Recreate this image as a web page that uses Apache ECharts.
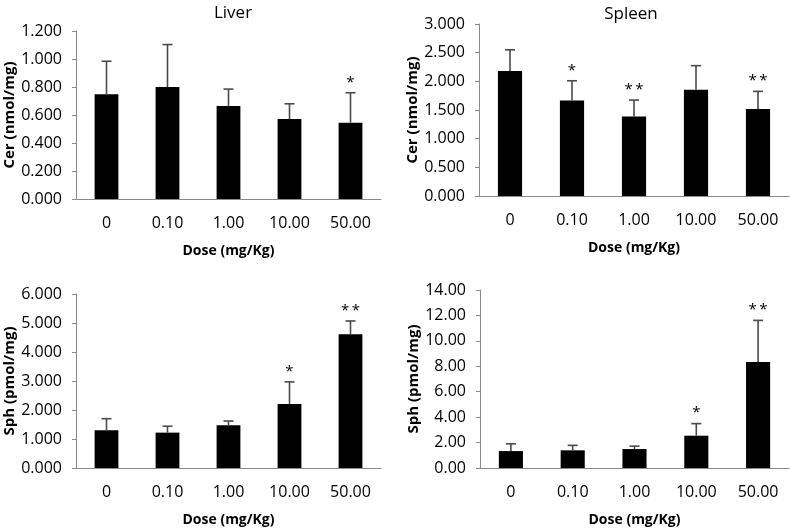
<!DOCTYPE html>
<html>
<head>
<meta charset="utf-8">
<script src="https://cdn.jsdelivr.net/npm/echarts@6/dist/echarts.min.js"></script>
<style>html,body{margin:0;padding:0;background:#fff}#c{width:790px;height:528px}</style>
</head>
<body>
<div id="c"></div>
<script>
// ---- data ----
const categories = ['0', '0.10', '1.00', '10.00', '50.00'];

const liverCerMean = [0.749, 0.800, 0.664, 0.571, 0.545];
const liverCerSD   = [0.235, 0.303, 0.121, 0.109, 0.214];
const liverCerSig  = ['', '', '', '', '*'];

const spleenCerMean = [2.18, 1.667, 1.388, 1.853, 1.516];
const spleenCerSD   = [0.37, 0.343, 0.285, 0.42, 0.309];
const spleenCerSig  = ['', '*', '**', '', '**'];

const liverSphMean = [1.30, 1.22, 1.47, 2.21, 4.61];
const liverSphSD   = [0.40, 0.22, 0.15, 0.76, 0.46];
const liverSphSig  = ['', '', '', '*', '**'];

const spleenSphMean = [1.33, 1.39, 1.49, 2.54, 8.33];
const spleenSphSD   = [0.57, 0.39, 0.23, 0.95, 3.28];
const spleenSphSig  = ['', '', '', '*', '**'];

const titles = ['Liver', 'Spleen', '', ''];
const yNames = ['Cer (nmol/mg)', 'Cer (nmol/mg)', 'Sph (pmol/mg)', 'Sph (pmol/mg)'];
const xName = 'Dose (mg/Kg)';
const yMax = [1.2, 3, 6, 14];
const yInterval = [0.2, 0.5, 1, 2];
const yDecimals = [3, 3, 3, 2];

// ---- layout ----
const FONT = 'Open Sans';
const grids = [
  {left: 76, top: 31, width: 305, height: 168},
  {left: 479, top: 24, width: 310, height: 172},
  {left: 76, top: 294, width: 305, height: 177},
  {left: 480, top: 290, width: 309, height: 181}
];
const yNameGap = [57, 51, 57, 51];
const panels = [
  [liverCerMean, liverCerSD, liverCerSig],
  [spleenCerMean, spleenCerSD, spleenCerSig],
  [liverSphMean, liverSphSD, liverSphSig],
  [spleenSphMean, spleenSphSD, spleenSphSig]
];

const axisGray = '#8a8a8a';
const xAxes = [], yAxes = [], series = [];
panels.forEach((p, i) => {
  const [mean, sd, sig] = p;
  xAxes.push({
    type: 'category', gridIndex: i, data: categories,
    axisLine: {lineStyle: {color: axisGray, width: 1}},
    axisTick: {show: false},
    axisLabel: {color: '#000', fontSize: 16, fontFamily: FONT, margin: 16},
    name: xName, nameLocation: 'middle', nameGap: 45,
    nameTextStyle: {color: '#000', fontSize: 14, fontWeight: 'bold', fontFamily: FONT}
  });
  yAxes.push({
    type: 'value', gridIndex: i, min: 0, max: yMax[i], interval: yInterval[i],
    splitLine: {show: false},
    axisLine: {show: true, lineStyle: {color: axisGray, width: 1}},
    axisTick: {show: true, inside: false, length: 4, lineStyle: {color: axisGray}},
    axisLabel: {color: '#000', fontSize: 16, fontFamily: FONT, margin: 14,
      formatter: v => v.toFixed(yDecimals[i])},
    name: yNames[i], nameLocation: 'middle', nameGap: yNameGap[i],
    nameTextStyle: {color: '#000', fontSize: 15, fontWeight: 'bold', fontFamily: FONT}
  });
  series.push({
    type: 'bar', xAxisIndex: i, yAxisIndex: i, data: mean,
    barWidth: '39%', itemStyle: {color: '#000'}, silent: true
  });
  series.push({
    type: 'custom', xAxisIndex: i, yAxisIndex: i, z: 5, silent: true,
    data: mean.map((m, k) => [k, m, sd[k]]),
    renderItem: function (params, api) {
      const k = api.value(0);
      const p0 = api.coord([k, api.value(1)]);
      const p1 = api.coord([k, api.value(1) + api.value(2)]);
      const st = {stroke: '#4a4a4a', lineWidth: 1.6};
      const children = [
        {type: 'line', shape: {x1: p0[0], y1: p0[1], x2: p1[0], y2: p1[1]}, style: st},
        {type: 'line', shape: {x1: p1[0] - 5, y1: p1[1], x2: p1[0] + 5, y2: p1[1]}, style: st}
      ];
      const s = sig[params.dataIndex];
      if (s) {
        children.push({type: 'text', x: p1[0], y: p1[1] - 3,
          style: {text: s.split('').join('\u2009'), fill: '#000', font: '15px "' + FONT + '"',
            textAlign: 'center', textVerticalAlign: 'bottom'}});
      }
      return {type: 'group', children: children};
    }
  });
});

const chart = echarts.init(document.getElementById('c'), null, {renderer: 'canvas'});
chart.setOption({
  animation: false,
  backgroundColor: '#fff',
  title: [
    {text: titles[0], left: 228, top: 0, textAlign: 'center',
      textStyle: {color: '#000', fontSize: 17, fontWeight: 'normal', fontFamily: FONT}},
    {text: titles[1], left: 626, top: 1, textAlign: 'center',
      textStyle: {color: '#000', fontSize: 17, fontWeight: 'normal', fontFamily: FONT}}
  ],
  grid: grids,
  xAxis: xAxes,
  yAxis: yAxes,
  series: series
});
</script>
</body>
</html>
